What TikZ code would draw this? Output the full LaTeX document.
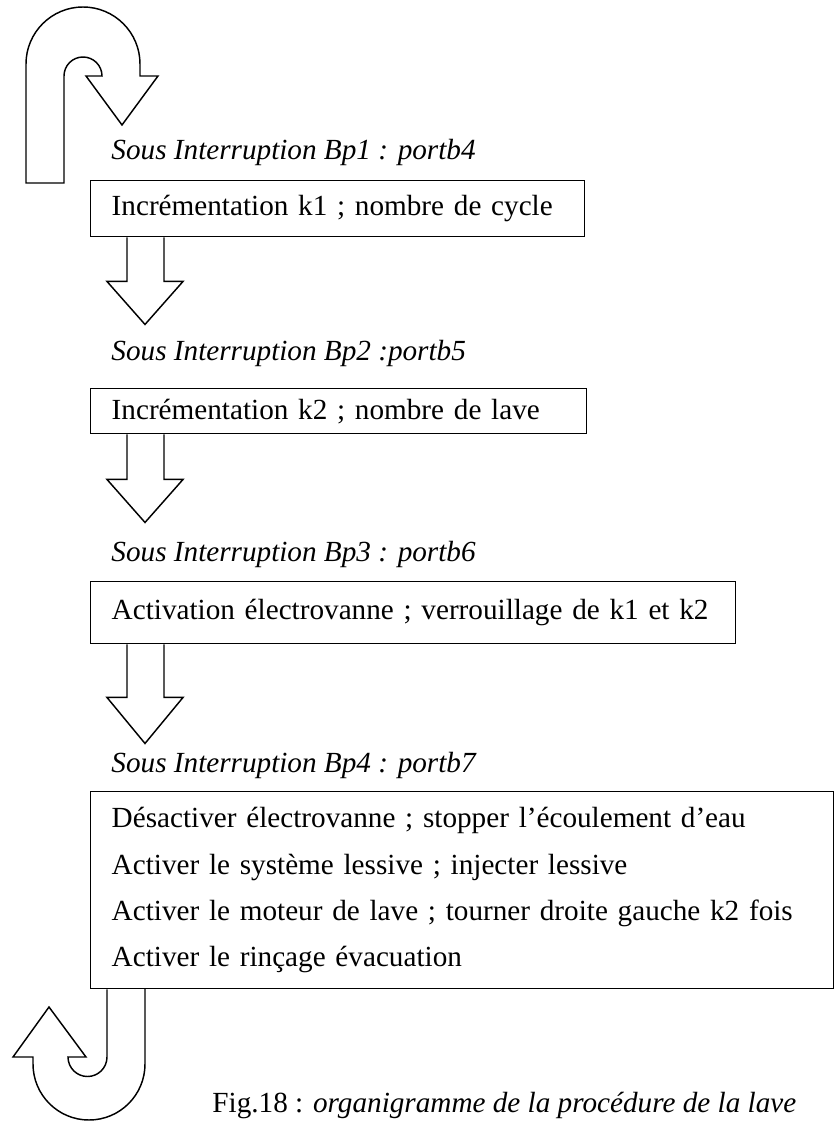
\documentclass[tikz,border=0pt]{standalone}
\usepackage{fontspec}
\setmainfont{Liberation Serif}
\usetikzlibrary{calc}
\newcommand{\px}{0.411pt}
\tikzset{
  box/.style={draw, line width=0.6pt, anchor=north west, inner xsep=21*\px, inner ysep=0pt, align=left},
  lab/.style={anchor=base west, inner sep=0pt, font=\fontsize{12pt}{19pt}\selectfont\itshape},
  blk/.style={draw, line width=0.6pt, line join=miter},
}

\begin{document}
\begin{tikzpicture}[x=0.411pt, y=-0.411pt, font=\fontsize{12pt}{19pt}\selectfont]
  \useasboundingbox (0,0) rectangle (834,1122);

  % loop arrow at the top
  \draw[blk] (26,183) -- (26,64) arc[start angle=180, end angle=360, radius=57]
    -- (140,76) -- (158,76) -- (122,125) -- (86,76) -- (102,76)
    arc[start angle=360, end angle=180, radius=19] -- (64,183) -- cycle;

  \node[lab] (l1) at (111,160) {Sous Interruption Bp1 : portb4};
  \node[box, text width=452*\px, minimum height=56*\px] (b1) at (90,180)
    {Incrémentation k1 ; nombre de cycle};

  \coordinate (a1) at ($(b1.south west)+(37,0)$);
  \draw[blk] (a1) -- ++(0,44) -- ++(-20,0) -- ++(38,43) -- ++(38,-43) -- ++(-19,0) -- ++(0,-44);

  \node[lab] (l2) at (111,361) {Sous Interruption Bp2 :portb5};
  \node[box, text width=454*\px, minimum height=45*\px] (b2) at (90,388)
    {Incrémentation k2 ; nombre de lave};

  \coordinate (a2) at ($(b2.south west)+(37,0)$);
  \draw[blk] (a2) -- ++(0,45) -- ++(-20,0) -- ++(38,43) -- ++(38,-43) -- ++(-19,0) -- ++(0,-45);

  \node[lab] (l3) at (111,561) {Sous Interruption Bp3 : portb6};
  \node[box, text width=603*\px, minimum height=62*\px] (b3) at (90,581)
    {Activation électrovanne ; verrouillage de k1 et k2};

  \coordinate (a3) at ($(b3.south west)+(37,0)$);
  \draw[blk] (a3) -- ++(0,53) -- ++(-20,0) -- ++(38,46) -- ++(38,-46) -- ++(-19,0) -- ++(0,-53);

  \node[lab] (l4) at (111,772) {Sous Interruption Bp4 : portb7};
  \node[box, text width=701*\px, minimum height=197*\px] (b4) at (90,791)
    {Désactiver électrovanne ; stopper l’écoulement d’eau\\
     Activer le système lessive ; injecter lessive\\
     Activer le moteur de lave ; tourner droite gauche k2 fois\\
     Activer le rinçage évacuation};

  % loop arrow at the bottom
  \coordinate (a4) at ($(b4.south west)+(17,0)$);
  \draw[blk] (a4) -- (107,1057) arc[start angle=0, end angle=180, radius=19.5]
    -- (86,1057) -- (49,1007) -- (13,1057) -- (33,1057) -- (33,1064)
    arc[start angle=180, end angle=0, radius=56] -- (145,988);

  \node[anchor=base west, inner sep=0pt] (cap) at (212,1112)
    {Fig.18 : \textit{organigramme de la procédure de la lave}};
\end{tikzpicture}
\end{document}
